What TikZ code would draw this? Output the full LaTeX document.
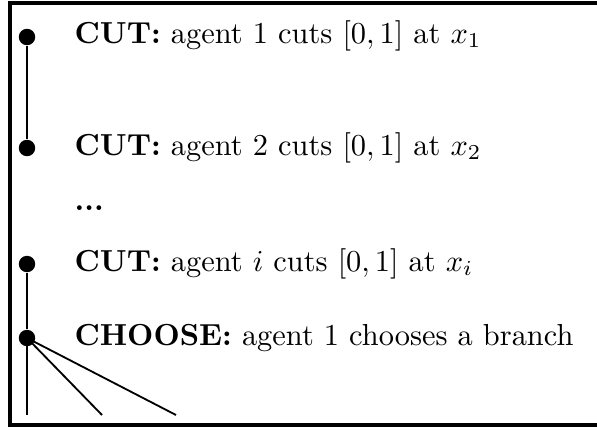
\documentclass[tikz,border=0pt]{standalone}
\begin{document}
\begin{tikzpicture}[x=0.3289pt,y=-0.3289pt,
  dot/.style={circle,fill=black,inner sep=0pt,minimum size=5.4pt},
  lbl/.style={anchor=base west,inner sep=0pt,font=\fontsize{10}{12}\selectfont},
  edge/.style={line width=0.6pt}]
\useasboundingbox (0,0) rectangle (597,430);
\draw[line width=1.2pt] (620,3) -- (10,3) -- (10,425) -- (620,425);
\node[dot] (d1) at (27,37) {};
\node[dot] (d2) at (27,148) {};
\node[dot] (d3) at (27,264) {};
\node[dot] (d4) at (27,338) {};
\node[lbl] (t1) at (74,43) {\textbf{CUT:} agent 1 cuts $[0,1]$ at $x_1$};
\node[lbl] (t2) at (74,155) {\textbf{CUT:} agent 2 cuts $[0,1]$ at $x_2$};
\node[lbl] (t3) at (74,210) {\textbf{...}};
\node[lbl] (t4) at (74,271) {\textbf{CUT:} agent $i$ cuts $[0,1]$ at $x_i$};
\node[lbl] (t5) at (74,345) {\textbf{CHOOSE:} agent 1 chooses a branch};
\coordinate (e1) at (27,415);
\coordinate (e2) at (102,415);
\coordinate (e3) at (176,415);
\draw[edge] (d1) -- (d2);
\draw[edge] (d3) -- (d4);
\draw[edge] (d4.center) -- (e1);
\draw[edge] (d4.center) -- (e2);
\draw[edge] (d4.center) -- (e3);
\end{tikzpicture}
\end{document}
